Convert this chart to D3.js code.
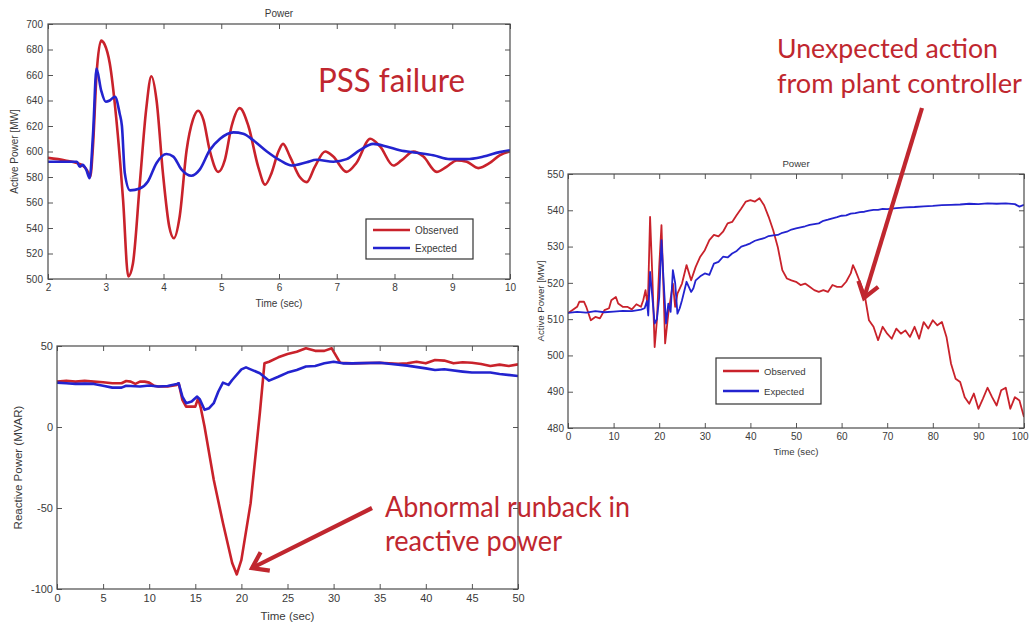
<!DOCTYPE html>
<html>
<head>
<meta charset="utf-8">
<script src="https://cdn.jsdelivr.net/npm/d3@7"></script>
<style>
  body { margin: 0; background: #fff; }
  svg { display: block; }
</style>
</head>
<body>
<svg id="fig" width="1029" height="625"></svg>
<script>
// ---- Active power after disturbance, 2–10 s: [time (s), MW]
const pssObserved = [
  [2.0,595],[2.3,593],[2.5,591],[2.6,589],[2.68,585],[2.73,580],[2.78,605],[2.84,660],[2.92,687],[2.98,684],
  [3.07,669],[3.18,627],[3.3,562],[3.39,502],[3.47,512],[3.59,575],[3.7,633],[3.79,659],[3.88,640],[3.99,583],
  [4.1,541],[4.18,532],[4.28,549],[4.4,601],[4.51,625],[4.6,632],[4.69,625],[4.8,601],[4.95,584],[5.06,593],
  [5.18,620],[5.32,634],[5.47,620],[5.64,588],[5.76,574],[5.87,583],[5.99,600],[6.07,606],[6.19,596],[6.36,580],
  [6.48,576],[6.62,588],[6.8,600],[6.94,596],[7.17,584],[7.34,591],[7.58,610],[7.75,604],[7.98,589],[8.12,593],
  [8.33,600],[8.5,596],[8.73,584],[8.9,588],[9.08,593],[9.25,592],[9.45,587],[9.65,591],[9.82,597],[10.0,600]
];
const pssExpected = [
  [2.0,592],[2.5,592],[2.55,588],[2.6,589.5],[2.66,586],[2.72,579],[2.78,614],[2.84,665],[2.92,648],[3.0,639],
  [3.07,640],[3.16,643],[3.24,630],[3.28,620],[3.33,583],[3.42,569.5],[3.59,571],[3.73,576.5],[3.88,591],[4.05,598],
  [4.17,596],[4.31,586],[4.48,581],[4.63,586],[4.8,601],[4.98,610],[5.21,615],[5.38,614],[5.55,609],[5.79,600],
  [6.02,593],[6.22,589],[6.48,591.6],[6.65,593.5],[6.94,592],[7.17,594],[7.4,601],[7.63,606],[7.86,604],[8.09,601],
  [8.38,599],[8.67,597],[8.96,594],[9.25,594],[9.54,596],[9.82,599.5],[10.0,601]
];

// ---- Reactive power, 0–50 s: [time (s), MVAR]
const mvarObserved = [
  [0,28],[1,28.6],[2,28],[3,28.5],[4,28],[5,27.6],[6,27],[7,27],[7.5,28.4],[8,28],[8.5,26.6],[9,28],[9.5,28],
  [10,27.4],[10.5,25.5],[11,25],[12,25],[13,26],[13.2,27],[13.6,16.7],[14,12.6],[15,12.6],[15.3,17.7],[15.6,11.6],
  [16,0.3],[17,-32.6],[18,-59.3],[19,-84],[19.5,-91],[20,-82],[21,-47],[22,8.5],[22.5,39.3],[23,40.3],[24,43],
  [25,45],[26,46.5],[27,48.6],[28,47],[29,47],[29.8,48.6],[30,46.5],[30.7,39.7],[32,39.3],[35,39.7],[37,39],
  [38,39.3],[39,40.3],[40,39.3],[41,41.4],[42,41],[43,39.3],[44,40],[45,39.7],[46,38.9],[47,37.7],[48,38.5],
  [49,37.7],[50,38.7]
];
const mvarExpected = [
  [0,27.4],[1,27],[2,26.6],[3,26.8],[4,26.6],[5,25.5],[6,24.3],[7,24.3],[7.5,25.5],[8,25.3],[9,25],[10,25.6],
  [11,25],[12,25.3],[13,26.6],[13.2,27],[13.6,18.8],[14,14.7],[14.6,15.7],[15.2,18.8],[15.5,17],[16,10.6],
  [16.5,11.6],[17,14.7],[17.5,21.9],[18,27.4],[18.6,26],[19,29],[20,35.6],[20.5,36.8],[21,35.6],[22,33.2],
  [23,28.6],[24,31],[25,33.6],[26,35.2],[27,37.3],[28,37.7],[29,39.3],[30,40.3],[31,39.3],[32,39.3],[35,39.7],
  [36,39],[38,37.9],[40,36.2],[41,35.2],[42,35.6],[44,34.2],[45,33.6],[47,33.6],[48,32.7],[50,31.5]
];

// ---- Active power, 0–100 s: [time (s), MW]
const plantObserved = [
  [0,511.7],[1,512.5],[2,513.4],[2.5,514.8],[3.5,514.8],[4,513.4],[5,509.7],[6,510.6],[7,510.2],[8,512.5],[9,513],
  [9.5,515.2],[10.5,516.1],[11,514.3],[12,513.4],[13,513.4],[14,512.7],[15,514.1],[16,513.4],[16.5,515.2],[17,518],
  [17.5,513.4],[18,538.2],[18.5,521.7],[19,502.3],[19.5,509.7],[20,524.4],[20.5,535.9],[21,516.1],[21.3,503.3],
  [22,511.5],[23,519.8],[23.5,513.4],[24,517],[25,519.8],[26,524.9],[27,520.7],[28,524.4],[29,527.2],[30,529],
  [31,531.8],[32,533.2],[33,532.8],[34,534.1],[35,536.4],[36,536.8],[37,538.7],[38,540.5],[39,542.4],[40,542.8],
  [41,542.4],[42,543.3],[43,541.4],[44,538.2],[45,534.5],[46,529.9],[47,523.5],[48,521.2],[49,520.7],[50,520.3],
  [51,519.4],[52,519.8],[53,518.9],[54,518],[55,517.5],[56,518],[57,517.5],[58,519.4],[59,518.9],[60,518.9],
  [61,520.3],[62,522.6],[62.5,524.9],[63,523.5],[64,520.3],[65,517.1],[66,509.7],[67,507.9],[68,504.2],[69,507.9],
  [70,506],[71,504.6],[72,507.4],[73,506],[74,506.9],[75,505.1],[76,507.9],[77,504.6],[78,509.2],[79,507.4],
  [80,509.7],[81,508.3],[82,509.2],[83,505.1],[84,497.7],[85,493.6],[86,492.7],[87,488.5],[88,486.7],[89,489.5],
  [90,485.3],[91,488.1],[92,491.1],[93,488.5],[94,486.2],[95,490.4],[96,491.1],[97,485.3],[98,488.5],[99,487.6],
  [100,483]
];
const plantExpected = [
  [0,511.7],[2,512],[4,511.8],[6,512.2],[8,511.9],[10,512.1],[12,512.3],[14,512.2],[15,512.4],[16,512.6],
  [16.8,513],[17.3,515],[17.6,511],[18,523],[18.5,516],[19,508.8],[19.5,510],[20,516],[20.5,531.8],[21,519.8],
  [21.5,508.8],[22,514.3],[22.5,512],[23,523.5],[23.5,520],[24,511.5],[24.5,513],[25,515.2],[26,520.3],[27,517.5],
  [27.5,518.5],[28,520.7],[29,521.8],[30,522.6],[31,522.2],[32,525.3],[33,525.8],[34,527.2],[35,527],[36,528.1],
  [37,528.8],[38,530],[39,530.4],[40,530.9],[41,531.6],[42,532],[43,532.3],[44,532.9],[45,533.1],[46,533.2],
  [47,533.8],[48,534.1],[49,534.7],[50,535],[51,535.3],[52,535.6],[53,536],[54,536.2],[55,536.4],[56,537.1],
  [57,537.4],[58,537.8],[59,538.1],[60,538.5],[61,538.6],[62,539.1],[63,539.2],[64,539.5],[65,539.6],[66,539.9],
  [67,540.1],[68,540.1],[69,540.4],[70,540.3],[72,540.6],[74,540.8],[76,540.9],[78,541.1],[80,541.2],[82,541.4],
  [84,541.5],[86,541.6],[88,541.8],[90,541.7],[92,541.9],[94,541.8],[96,541.9],[98,541.7],[99,541],[100,541.5]
];

// ---- Tick values
const pssXTicks = [2, 3, 4, 5, 6, 7, 8, 9, 10];
const pssYTicks = [500, 520, 540, 560, 580, 600, 620, 640, 660, 680, 700];
const mvarXTicks = [0, 5, 10, 15, 20, 25, 30, 35, 40, 45, 50];
const mvarYTicks = [-100, -50, 0, 50];
const plantXTicks = [0, 10, 20, 30, 40, 50, 60, 70, 80, 90, 100];
const plantYTicks = [480, 490, 500, 510, 520, 530, 540, 550];

const seriesNames = ["Observed", "Expected"];

const RED = "#c9222b";
const BLUE = "#2323cf";
const NOTE = "#c0272f";
const INK = "#3a3a3a";
const AXIS_FONT = "'Liberation Sans', Arial, sans-serif";
const NOTE_FONT = "Lato, 'Open Sans', sans-serif";
const plain = d => String(d);   // ASCII hyphen for negatives, as MATLAB prints them

const svg = d3.select("#fig");
svg.append("rect").attr("width", 1029).attr("height", 625).attr("fill", "#fff");

function panel(o) {
  const g = svg.append("g");
  const x = d3.scaleLinear().domain(o.xDomain).range([o.left, o.right]);
  const y = d3.scaleLinear().domain(o.yDomain).range([o.bottom, o.top]);

  g.append("clipPath").attr("id", o.id)
    .append("rect")
    .attr("x", o.left).attr("y", o.top)
    .attr("width", o.right - o.left).attr("height", o.bottom - o.top);

  const line = d3.line().x(d => x(d[0])).y(d => y(d[1])).curve(o.curve);
  o.series.forEach(s => {
    g.append("path")
      .datum(s.data)
      .attr("clip-path", `url(#${o.id})`)
      .attr("fill", "none")
      .attr("stroke", s.color)
      .attr("stroke-width", o.lineWidth)
      .attr("stroke-linejoin", "round")
      .attr("d", line);
  });

  const styleAxis = sel => {
    sel.select(".domain").remove();
    sel.selectAll(".tick line").attr("stroke", "#555").attr("stroke-width", 1);
    sel.selectAll(".tick text").attr("fill", INK)
      .style("font-family", AXIS_FONT).style("font-size", o.fontSize + "px");
  };

  const bottomAxis = g.append("g").attr("transform", `translate(0,${o.bottom})`)
    .call(d3.axisBottom(x).tickValues(o.xTicks).tickSize(-5).tickPadding(o.xPad).tickFormat(plain))
    .call(styleAxis);
  // keep the last label on the page when the axis ends at the page edge
  if (o.lastLabelEnd) {
    bottomAxis.selectAll(".tick text").filter(d => d === o.xTicks[o.xTicks.length - 1])
      .attr("text-anchor", "end").attr("x", o.lastLabelEnd - o.right);
  }
  g.append("g").attr("transform", `translate(0,${o.top})`)
    .call(d3.axisTop(x).tickValues(o.xTicks).tickSize(-5).tickFormat(""))
    .call(styleAxis);
  g.append("g").attr("transform", `translate(${o.left},0)`)
    .call(d3.axisLeft(y).tickValues(o.yTicks).tickSize(-5).tickPadding(o.yPad).tickFormat(plain))
    .call(styleAxis);
  g.append("g").attr("transform", `translate(${o.right},0)`)
    .call(d3.axisRight(y).tickValues(o.yTicks).tickSize(-5).tickFormat(""))
    .call(styleAxis);

  g.append("rect")
    .attr("x", o.left).attr("y", o.top)
    .attr("width", o.right - o.left).attr("height", o.bottom - o.top)
    .attr("fill", "none").attr("stroke", "#4a4a4a").attr("stroke-width", 1.2);

  const label = (txt, tx, ty, rot) => g.append("text")
    .attr("transform", `translate(${tx},${ty})` + (rot ? " rotate(-90)" : ""))
    .attr("text-anchor", "middle").attr("dominant-baseline", "central")
    .attr("fill", INK).style("font-family", AXIS_FONT)
    .style("font-size", o.labelSize + "px")
    .text(txt);

  if (o.title) label(o.title, (o.left + o.right) / 2, o.top - 11, false);
  label(o.xLabel, (o.left + o.right) / 2, o.xLabelY, false);
  label(o.yLabel, o.yLabelX, (o.top + o.bottom) / 2, true);

  if (o.legend) {
    const L = o.legend;
    const lg = g.append("g");
    lg.append("rect").attr("x", L.x).attr("y", L.y).attr("width", L.w).attr("height", L.h)
      .attr("fill", "#fff").attr("stroke", "#333").attr("stroke-width", 1.2);
    o.series.forEach((s, i) => {
      const ly = L.y + L.row0 + i * L.rowGap;
      lg.append("line")
        .attr("x1", L.x + L.lineX0).attr("x2", L.x + L.lineX1)
        .attr("y1", ly).attr("y2", ly)
        .attr("stroke", s.color).attr("stroke-width", L.lineWidth);
      lg.append("text")
        .attr("x", L.x + L.textX).attr("y", ly)
        .attr("dominant-baseline", "central")
        .attr("fill", INK).style("font-family", AXIS_FONT)
        .style("font-size", L.fontSize + "px")
        .text(s.name);
    });
  }
}

// Top-left: PSS failure case
panel({
  id: "clipPss", left: 48, right: 510, top: 24, bottom: 279,
  xDomain: [2, 10], yDomain: [500, 700], xTicks: pssXTicks, yTicks: pssYTicks,
  curve: d3.curveMonotoneX, lineWidth: 2.6, fontSize: 10, labelSize: 10,
  xPad: 5, yPad: 5,
  title: "Power", xLabel: "Time (sec)", xLabelY: 303, yLabel: "Active Power [MW]", yLabelX: 14,
  series: [
    { name: seriesNames[0], data: pssObserved, color: RED },
    { name: seriesNames[1], data: pssExpected, color: BLUE }
  ],
  legend: { x: 366, y: 219, w: 107, h: 40, row0: 11, rowGap: 18, lineX0: 7, lineX1: 44, textX: 49, lineWidth: 2.6, fontSize: 10 }
});

// Bottom-left: reactive power runback
panel({
  id: "clipMvar", left: 57, right: 518, top: 346, bottom: 589,
  xDomain: [0, 50], yDomain: [-100, 50], xTicks: mvarXTicks, yTicks: mvarYTicks,
  curve: d3.curveLinear, lineWidth: 2.6, fontSize: 11, labelSize: 11.5,
  xPad: 5, yPad: 4,
  title: null, xLabel: "Time (sec)", xLabelY: 616, yLabel: "Reactive Power (MVAR)", yLabelX: 18,
  series: [
    { name: seriesNames[0], data: mvarObserved, color: RED },
    { name: seriesNames[1], data: mvarExpected, color: BLUE }
  ]
});

// Right: plant controller action
panel({
  id: "clipPlant", left: 568, right: 1024, top: 174, bottom: 428,
  xDomain: [0, 100], yDomain: [480, 550], xTicks: plantXTicks, yTicks: plantYTicks,
  curve: d3.curveLinear, lineWidth: 1.8, fontSize: 10, labelSize: 9.6,
  xPad: 5, yPad: 4, lastLabelEnd: 1028,
  title: "Power", xLabel: "Time (sec)", xLabelY: 451, yLabel: "Active Power [MW]", yLabelX: 540,
  series: [
    { name: seriesNames[0], data: plantObserved, color: RED },
    { name: seriesNames[1], data: plantExpected, color: BLUE }
  ],
  legend: { x: 716, y: 358, w: 105, h: 46, row0: 13, rowGap: 20, lineX0: 7, lineX1: 43, textX: 48, lineWidth: 2.4, fontSize: 9.6 }
});

// ---- Callouts
function note(lines, x, y0, gap, size) {
  lines.forEach((l, i) => {
    svg.append("text")
      .attr("x", x).attr("y", y0 + i * gap)
      .attr("fill", NOTE)
      .attr("textLength", l.w).attr("lengthAdjust", "spacingAndGlyphs")
      .style("font-family", NOTE_FONT).style("font-size", size + "px")
      .text(l.t);
  });
}
note([{ t: "PSS failure", w: 147 }], 318, 92, 0, 32);
note([{ t: "Unexpected action", w: 221 }, { t: "from plant controller", w: 245 }], 777, 57.5, 35, 27.5);
note([{ t: "Abnormal runback in", w: 245 }, { t: "reactive power", w: 177 }], 385, 516.7, 34.5, 28);

function arrow(x0, y0, x1, y1) {
  const ang = Math.atan2(y0 - y1, x0 - x1);
  const len = 18, spread = 35 * Math.PI / 180;
  const w1 = [x1 + len * Math.cos(ang + spread), y1 + len * Math.sin(ang + spread)];
  const w2 = [x1 + len * Math.cos(ang - spread), y1 + len * Math.sin(ang - spread)];
  const g = svg.append("g").attr("stroke", NOTE).attr("stroke-width", 4.2).attr("fill", "none");
  g.append("line").attr("x1", x0).attr("y1", y0).attr("x2", x1).attr("y2", y1);
  g.append("path")
    .attr("stroke-linejoin", "miter")
    .attr("d", `M${w1[0]},${w1[1]}L${x1},${y1}L${w2[0]},${w2[1]}`);
}
arrow(922, 108, 864, 298);
arrow(372, 508, 252, 568);
</script>
</body>
</html>
